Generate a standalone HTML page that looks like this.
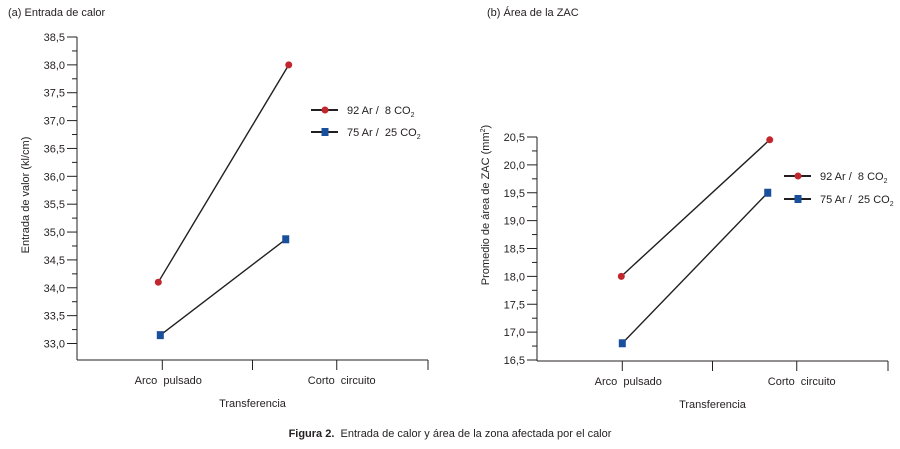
<!DOCTYPE html>
<html><head><meta charset="utf-8"><style>
body{margin:0;background:#fff;}
svg{display:block;font-family:"Liberation Sans",sans-serif;}
text{white-space:pre;}
</style></head><body>
<svg id="s" width="900" height="449">
<text x="8" y="16" font-size="11" fill="#231f20">(a) Entrada de calor</text>
<text x="487" y="16" font-size="11" fill="#231f20">(b) Área de la ZAC</text>
<text x="450" y="437" font-size="11" text-anchor="middle" fill="#231f20"><tspan font-weight="bold">Figura 2.</tspan>  Entrada de calor y área de la zona afectada por el calor</text>
</svg>
<script>
const categories = ["Arco  pulsado", "Corto  circuito"];
const seriesNames = ["92 Ar /  8 CO", "75 Ar /  25 CO"];
const heatRed = [34.1, 38.0];
const heatBlue = [33.15, 34.87];
const hazRed = [18.0, 20.45];
const hazBlue = [16.8, 19.5];
const heatTicks = [33.0,33.5,34.0,34.5,35.0,35.5,36.0,36.5,37.0,37.5,38.0,38.5];
const hazTicks = [16.5,17.0,17.5,18.0,18.5,19.0,19.5,20.0,20.5];

const NS="http://www.w3.org/2000/svg", svg=document.getElementById('s');
function el(t,a,p){const e=document.createElementNS(NS,t);for(const k in a)e.setAttribute(k,a[k]);(p||svg).appendChild(e);return e;}

function chart(c){
  const g=el('g',{});
  
  
  const y=v=>c.yTop+(c.max-v)/(c.max-c.min)*(c.yBot-c.yTop);
  const catX=[c.x0+(c.x1-c.x0)*0.243,c.x0+(c.x1-c.x0)*0.74];
  const ya=el('line',{x1:c.x0,y1:c.yTop,x2:c.x0,y2:c.axisY,stroke:'#231f20','stroke-width':1},g);
  
  
  const xa=el('line',{x1:c.x0,y1:c.axisY,x2:c.x1,y2:c.axisY,stroke:'#231f20','stroke-width':1},g);
  
  
  c.ticks.forEach((v,i)=>{
    el('line',{x1:c.x0-10,y1:y(v),x2:c.x0,y2:y(v),stroke:'#231f20'},g);
    if(i<c.ticks.length-1){const m=(v+c.ticks[i+1])/2;el('line',{x1:c.x0-5,y1:y(m),x2:c.x0,y2:y(m),stroke:'#231f20'},g);}
    const t=el('text',{x:c.x0-12,y:y(v)+4,'font-size':11,'text-anchor':'end',fill:'#231f20'},g);
    t.textContent=v.toFixed(1).replace('.',',');
    
    
  });
  [0.243,0.5,0.74,1].forEach(f=>{const xx=c.x0+(c.x1-c.x0)*f;el('line',{x1:xx,y1:c.axisY,x2:xx,y2:c.axisY+10,stroke:'#231f20'},g);});
  categories.forEach((cat,i)=>{
    const t=el('text',{x:c.x0+(c.x1-c.x0)*(i?0.74:0.243)+(i?5:6),y:c.axisY+24,'font-size':11,'text-anchor':'middle',fill:'#231f20'},g);
    t.textContent=cat;
    
    
  });
  const xt=el('text',{x:(c.x0+c.x1)/2,y:c.axisY+47,'font-size':11,'text-anchor':'middle',fill:'#231f20'},g);
  xt.textContent='Transferencia';
  
  
  const yt=el('text',{x:0,y:0,'font-size':11,'text-anchor':'middle',fill:'#231f20',transform:`translate(${c.ytx},${c.yty}) rotate(-90)`},g);
  yt.innerHTML=c.ytitle;
  
  
  [[c.red,'#c1272d','circle',c.rdx],[c.blue,'#1a4f9c','square',c.bdx]].forEach((s,si)=>{
    const pts=s[0].map((v,i)=>[catX[i]+s[3][i],y(v)]);
    const ln=el('line',{x1:pts[0][0],y1:pts[0][1],x2:pts[1][0],y2:pts[1][1],stroke:'#231f20','stroke-width':1.4},g);
    
    
    pts.forEach(p=>{
      const m=s[2]=='circle'?el('circle',{cx:p[0],cy:p[1],r:3.5,fill:s[1]},g):el('rect',{x:p[0]-3.5,y:p[1]-4,width:7,height:8,fill:s[1]},g);
      
      
    });
    const ly=c.legY+si*c.legGap;
    const lg=el('g',{},g);
    
    
    el('line',{x1:c.legX,y1:ly,x2:c.legX+27,y2:ly,stroke:'#231f20','stroke-width':2},lg);
    if(s[2]=='circle')el('circle',{cx:c.legX+14,cy:ly,r:3.5,fill:s[1]},lg);
    else el('rect',{x:c.legX+10.5,y:ly-4,width:7,height:8,fill:s[1]},lg);
    const t=el('text',{x:c.legX+36,y:ly+4,'font-size':11,fill:'#231f20'},lg);
    t.innerHTML=seriesNames[si]+'<tspan font-size="7" dy="3">2</tspan>';
  });
}
chart({name:'chart-heat-input',x0:77,x1:428,yTop:37,yBot:343.5,axisY:360,min:33.0,max:38.5,ticks:heatTicks,red:heatRed,blue:heatBlue,rdx:[-4,-48],bdx:[-2,-51],legX:311,legY:110,legGap:22,ytx:29,yty:195,ytitle:'Entrada de valor (kl/cm)'});
chart({name:'chart-haz-area',x0:537,x1:888,yTop:137,yBot:360,axisY:361,min:16.5,max:20.5,ticks:hazTicks,red:hazRed,blue:hazBlue,rdx:[-1,-27],bdx:[0,-29],legX:784,legY:176,legGap:23,ytx:489,yty:205,ytitle:'Promedio de área de ZAC (mm<tspan font-size="7" dy="-4">2</tspan><tspan dy="4">)</tspan>'})
</script>
</body></html>
